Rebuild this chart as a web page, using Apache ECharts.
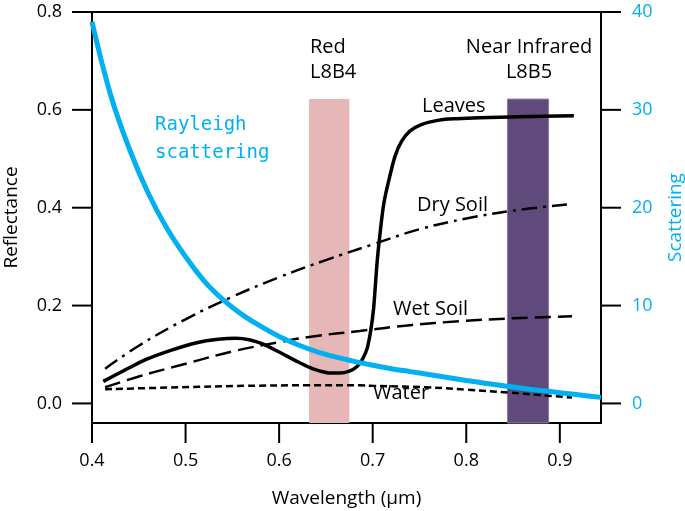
<!DOCTYPE html>
<html><head><meta charset="utf-8">
<script src="https://cdn.jsdelivr.net/npm/echarts@6/dist/echarts.min.js"></script>
<style>html,body{margin:0;padding:0;background:#fff}#c{width:685px;height:511px}</style>
</head><body><div id="c"></div>
<script>
// ---- data ----
const xTicks = [0.4, 0.5, 0.6, 0.7, 0.8, 0.9];
const leftTicks = [0, 0.2, 0.4, 0.6, 0.8];
const rightTicks = [0, 10, 20, 30, 40];

const leavesX = [0.412, 0.435, 0.458, 0.485, 0.512, 0.535, 0.554, 0.568, 0.583, 0.60, 0.618, 0.633, 0.643, 0.655, 0.665, 0.675, 0.683, 0.689, 0.694, 0.698, 0.701, 0.703, 0.705, 0.708, 0.712, 0.718, 0.724, 0.731, 0.740, 0.752, 0.771, 0.79, 0.814, 0.857, 0.915];
const leavesY = [0.045, 0.068, 0.090, 0.109, 0.124, 0.131, 0.133, 0.130, 0.121, 0.105, 0.087, 0.073, 0.0665, 0.062, 0.062, 0.066, 0.075, 0.090, 0.112, 0.150, 0.195, 0.245, 0.295, 0.350, 0.410, 0.462, 0.506, 0.536, 0.557, 0.570, 0.579, 0.582, 0.584, 0.586, 0.588];

const drySoilX = [0.414, 0.45, 0.50, 0.55, 0.60, 0.65, 0.70, 0.75, 0.80, 0.85, 0.91];
const drySoilY = [0.071, 0.118, 0.172, 0.218, 0.258, 0.293, 0.325, 0.356, 0.378, 0.394, 0.407];

const wetSoilX = [0.414, 0.45, 0.494, 0.554, 0.60, 0.636, 0.686, 0.74, 0.793, 0.85, 0.913];
const wetSoilY = [0.033, 0.055, 0.078, 0.108, 0.125, 0.137, 0.148, 0.160, 0.168, 0.174, 0.178];

const waterX = [0.414, 0.494, 0.565, 0.63, 0.686, 0.70, 0.757, 0.80, 0.846, 0.88, 0.913];
const waterY = [0.029, 0.033, 0.036, 0.037, 0.037, 0.036, 0.033, 0.028, 0.022, 0.017, 0.012];

const rayleighX = [0.40, 0.42, 0.44, 0.46, 0.48, 0.50, 0.52, 0.54, 0.56, 0.58, 0.60, 0.62, 0.64, 0.66, 0.68, 0.70, 0.72, 0.74, 0.76, 0.78, 0.80, 0.82, 0.84, 0.86, 0.88, 0.90, 0.92, 0.944];
const rayleighY = [39.0, 31.5, 26.0, 21.5, 17.9, 15.0, 12.5, 10.6, 9.1, 7.9, 6.85, 6.0, 5.3, 4.75, 4.3, 3.9, 3.55, 3.25, 2.95, 2.65, 2.35, 2.07, 1.8, 1.55, 1.32, 1.1, 0.88, 0.62];

const redBand = [0.632, 0.675];
const nirBand = [0.844, 0.888];
const bandTop = 0.622;

const pairs = (xs, ys) => xs.map((x, i) => [x, ys[i]]);

const FONT = '"Open Sans", "Noto Sans", sans-serif';
const BLUE = '#00B0F0';
const X_MIN = 0.4, X_MAX = 0.944, YL_MIN = -0.04, YL_MAX = 0.8, YR_MIN = -2, YR_MAX = 40;
const isTick = (list, v) => list.some(t => Math.abs(t - v) < 1e-6);

// grid geometry (layout) and the linear scales it implies
const W = 685, H = 511;
const G = {left: 92, right: 84, top: 12, bottom: 88};
const gx0 = G.left, gx1 = W - G.right, gy0 = G.top, gy1 = H - G.bottom;
const sx = v => gx0 + (v - X_MIN) / (X_MAX - X_MIN) * (gx1 - gx0);
const syL = v => gy1 - (v - YL_MIN) / (YL_MAX - YL_MIN) * (gy1 - gy0);
const syR = v => gy1 - (v - YR_MIN) / (YR_MAX - YR_MIN) * (gy1 - gy0);

const TICK = 20;
const tickRects = [];
const addRect = (x, y, w, h) => tickRects.push({type: 'rect', z: 100, silent: true,
  shape: {x: x, y: y, width: w, height: h}, style: {fill: '#000'}});
xTicks.forEach(v => addRect(sx(v) - 1, gy1, 2, TICK));
leftTicks.forEach(v => addRect(gx0 - TICK, syL(v) - 1, TICK, 2));
rightTicks.forEach(v => addRect(gx1, syR(v) - 1, TICK, 2));

const textGraphics = [
  {type: 'text', left: 310, top: 35, style: {text: 'Red\nL8B4', fill: '#000', font: '20px ' + FONT, lineHeight: 25}},
  {type: 'text', x: 529, y: 35, style: {text: 'Near Infrared\nL8B5', fill: '#000', font: '20px ' + FONT, lineHeight: 25, align: 'center'}},
  {type: 'text', left: 422, top: 96, style: {text: 'Leaves', fill: '#000', font: '20px ' + FONT}},
  {type: 'text', left: 417, top: 195, style: {text: 'Dry Soil', fill: '#000', font: '20px ' + FONT}},
  {type: 'text', left: 393, top: 299, style: {text: 'Wet Soil', fill: '#000', font: '20px ' + FONT}},
  {type: 'text', left: 373, top: 383, style: {text: 'Water', fill: '#000', font: '20px ' + FONT}},
  {type: 'text', left: 155, top: 111, style: {text: 'Rayleigh\nscattering', fill: BLUE, font: '19px "DejaVu Sans Mono", monospace', lineHeight: 28}}
];

const chart = echarts.init(document.getElementById('c'), null, {renderer: 'canvas'});
const axLine = {show: true, onZero: false, lineStyle: {color: '#000', width: 2}};

chart.setOption({
  animation: false,
  grid: {left: G.left, right: G.right, top: G.top, bottom: G.bottom, outerBoundsMode: 'none',
    show: true, borderColor: '#000', borderWidth: 2},
  xAxis: {
    type: 'value', min: X_MIN, max: X_MAX, splitNumber: 5,
    axisLine: axLine, splitLine: {show: false}, axisTick: {show: false},
    axisLabel: {margin: 29, color: '#000', fontSize: 18, fontFamily: FONT,
      formatter: v => (isTick(xTicks, v) ? v.toFixed(1) : '')},
    name: 'Wavelength (µm)', nameLocation: 'middle', nameGap: 66,
    nameTextStyle: {color: '#000', fontSize: 19, fontFamily: FONT}
  },
  yAxis: [
    {
      type: 'value', min: YL_MIN, max: YL_MAX, splitNumber: 4, position: 'left',
      axisLine: axLine, splitLine: {show: false}, axisTick: {show: false},
      axisLabel: {margin: 30, color: '#000', fontSize: 18, fontFamily: FONT,
        formatter: v => (isTick(leftTicks, v) ? v.toFixed(1) : '')},
      name: 'Reflectance', nameLocation: 'middle', nameGap: 71, nameRotate: 90,
      nameTextStyle: {color: '#000', fontSize: 19, fontFamily: FONT}
    },
    {
      type: 'value', min: YR_MIN, max: YR_MAX, splitNumber: 4, position: 'right',
      axisLine: axLine, splitLine: {show: false}, axisTick: {show: false},
      axisLabel: {margin: 31, color: BLUE, fontSize: 18, fontFamily: FONT,
        formatter: v => (isTick(rightTicks, v) ? String(Math.round(v)) : '')},
      name: 'Scattering', nameLocation: 'middle', nameGap: 65, nameRotate: 90,
      nameTextStyle: {color: BLUE, fontSize: 19, fontFamily: FONT}
    }
  ],
  series: [
    {
      name: 'bands', type: 'line', data: [], yAxisIndex: 0, silent: true,
      markArea: {silent: true, data: [
        [{xAxis: redBand[0], yAxis: YL_MIN, itemStyle: {color: '#E5B8B7'}}, {xAxis: redBand[1], yAxis: bandTop}],
        [{xAxis: nirBand[0], yAxis: YL_MIN, itemStyle: {color: '#604A7B', borderColor: '#8C7BA3', borderWidth: 1}}, {xAxis: nirBand[1], yAxis: bandTop}]
      ]}
    },
    {name: 'Water', type: 'line', smooth: 0.4, symbol: 'none', yAxisIndex: 0, data: pairs(waterX, waterY),
      lineStyle: {color: '#000', width: 2.5, type: [7, 4]}, z: 3},
    {name: 'Wet Soil', type: 'line', smooth: 0.4, symbol: 'none', yAxisIndex: 0, data: pairs(wetSoilX, wetSoilY),
      lineStyle: {color: '#000', width: 2.5, type: [16, 7]}, z: 3},
    {name: 'Dry Soil', type: 'line', smooth: 0.4, symbol: 'none', yAxisIndex: 0, data: pairs(drySoilX, drySoilY),
      lineStyle: {color: '#000', width: 2.5, type: [15, 6, 3, 6]}, z: 3},
    {name: 'Leaves', type: 'line', smooth: 0.3, symbol: 'none', yAxisIndex: 0, data: pairs(leavesX, leavesY),
      lineStyle: {color: '#000', width: 3.5}, z: 4},
    {name: 'Rayleigh', type: 'line', smooth: 0.4, symbol: 'none', yAxisIndex: 1, data: pairs(rayleighX, rayleighY),
      lineStyle: {color: BLUE, width: 5}, z: 5}
  ],
  graphic: {elements: textGraphics.concat(tickRects)}
});
</script></body></html>
